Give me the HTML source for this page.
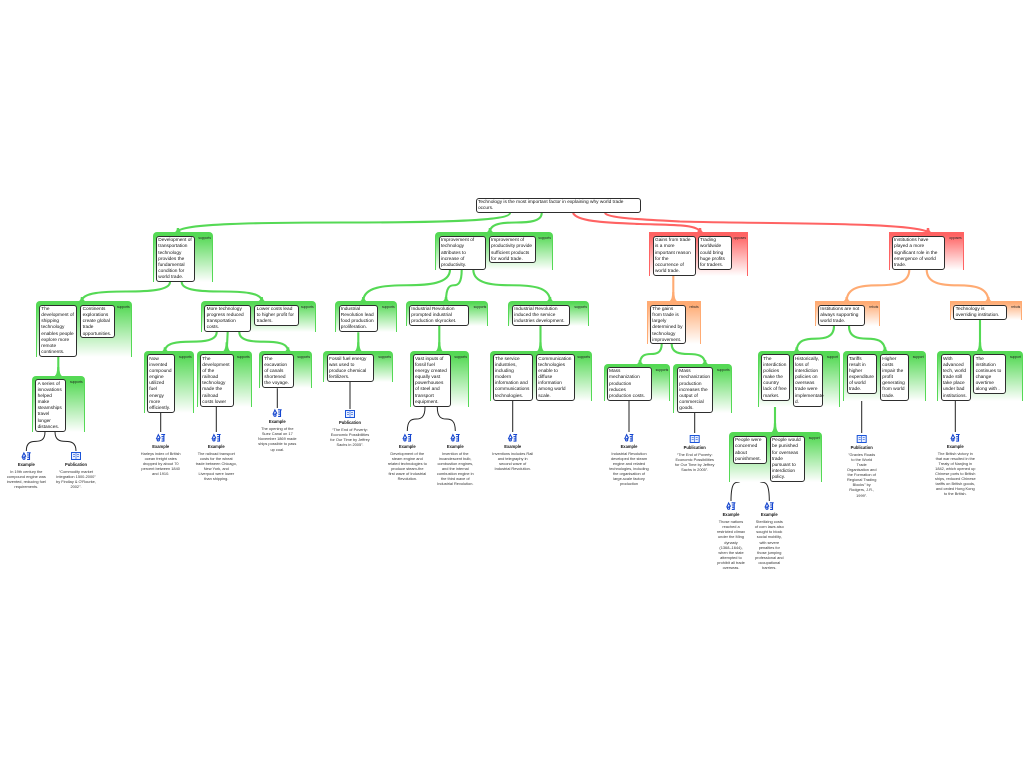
<!DOCTYPE html>
<html><head><meta charset="utf-8"><title>Argument map</title>
<style>
html,body{margin:0;padding:0;background:#fff;width:1024px;height:768px;overflow:hidden}
#w{position:absolute;left:0;top:0;width:1024px;height:768px;font-family:"Liberation Sans",sans-serif;filter:blur(.28px)}
.p{position:absolute;box-sizing:border-box;border-left:1px solid;border-right:1px solid}
.g{border-color:#55d955;background:linear-gradient(#55d955 8%,#fff 100%);border-radius:4px 4px 0 0}
.r{border-color:#ff6363;background:linear-gradient(#ff6363 8%,#fff 100%)}
.o{border-color:#ffab73;background:linear-gradient(#ffab73 8%,#fff 100%)}
.p span{position:absolute;right:1px;top:4px;font-size:3.3px;line-height:4px;color:#222}
.n{position:absolute;box-sizing:border-box;background:#fff;border:1.2px solid #2e2e2e;border-radius:3px;padding:1.3px 0 0 1.3px;font-size:4.78px;line-height:6.15px;color:#111;white-space:nowrap;overflow:visible}
.c{position:absolute;width:60px;text-align:center;font-size:3.9px;line-height:5.1px;color:#333;white-space:nowrap}
.c b{display:block;font-size:4.1px;line-height:5px;color:#111;margin-bottom:2px}
svg{position:absolute;left:0;top:0}
</style></head><body><div id="w">
<svg width="1024" height="768" viewBox="0 0 1024 768" xmlns="http://www.w3.org/2000/svg">
<defs>
<path id="f" d="M-3 0Q-1.2 -1 -1.2 -4H1.2Q1.2 -1 3 0Z"/>
<path id="h" d="M-3.5 0Q-1.1 -2 -1.1 -9H1.1Q1.1 -2 3.5 0Z"/>
<symbol id="ex" viewBox="0 0 10 8" overflow="visible">
<g fill="none" stroke="#1546cf" stroke-width="1.1"><path d="M.6 5.5L2.6 1 4.4 4.2 2.4 5.4"/><circle cx="2.6" cy="6.2" r="1.1"/><path d="M5.6 .8H9.4M8.2 .8V7.4H5.8M5.8 3H8M6 5.2H8"/></g>
</symbol>
<symbol id="bk" viewBox="0 0 10 8" overflow="visible">
<g fill="#e8efff" stroke="#1c55d8" stroke-width="1"><rect x=".5" y=".5" width="9" height="7"/><path d="M5 .5V7.5M2 2.7H4M2 4.7H4M6 2.7H8M6 4.7H8" stroke-width=".6"/></g>
</symbol>
</defs>
<g fill="none" stroke="#55d955" stroke-width="2.1">
<path d="M510 213C510 221.5 427 222.5 344 222.5S178 223.5 178 232"/>
<path d="M541.7 213C541.7 221.5 528.8 222.5 515.9 222.5S490 223.5 490 232"/>
<path d="M170 282C170 290.5 148 291.5 126 291.5S82 292.5 82 301"/>
<path d="M181.7 282C181.7 290.5 201.7 291.5 221.7 291.5S261.7 292.5 261.7 301"/>
<path d="M450 269.5C450 283.7 428.3 285.25 406.7 285.25S363.3 286.8 363.3 301"/>
<path d="M461.7 269.5C461.7 283.7 457.8 285.25 453.9 285.25S446 286.8 446 301"/>
<path d="M473.3 269.5C473.3 283.7 492.5 285.25 511.7 285.25S550 286.8 550 301"/>
<path d="M216.7 332C216.7 340.7 203.8 341.65 190.9 341.65S165 342.6 165 351.3"/>
<path d="M227.7 332L226.7 351.3"/>
<path d="M239.3 332C239.3 340.7 251.5 341.65 263.7 341.65S288 342.6 288 351.3"/>
<path d="M661.7 344C661.7 353 656.3 354 650.9 354S640 355 640 364"/>
<path d="M671.7 344C671.7 353 680 354 688.4 354S705 355 705 364"/>
<path d="M834 326C834 337.4 824.7 338.65 815.4 338.65S796.7 339.9 796.7 351.3"/>
<path d="M849 326C849 337.4 858 338.65 867 338.65S885 339.9 885 351.3"/>
<path d="M58.3 356.7V376M358.3 332.3V351.3M439.3 326V351.3M540.5 326V351.3M980 320V351.3M775 401V432.3"/>
</g>
<g fill="none" stroke="#ff6363" stroke-width="2.1">
<path d="M573 213C577 221 600 222.5 640 224C670 225 698 224 700 232"/>
<path d="M605 213C607 218 640 219.5 680 221.5C770 224 910 222 928 232"/>
</g>
<g fill="none" stroke="#ffab73" stroke-width="2.1">
<path d="M673.3 275.5V301"/>
<path d="M909.3 269.6C909.3 283.7 893.7 285.3 878 285.3S846.7 286.9 846.7 301"/>
<path d="M926.7 269.6C926.7 283.7 942.1 285.3 957.5 285.3S988.3 286.9 988.3 301"/>
</g>
<g fill="#55d955">
<use href="#f" x="178" y="232"/><use href="#f" x="490" y="232"/><use href="#f" x="82" y="301"/><use href="#f" x="261.7" y="301"/><use href="#f" x="363.3" y="301"/><use href="#f" x="446" y="301"/><use href="#f" x="550" y="301"/><use href="#f" x="165" y="351.3"/><use href="#f" x="288" y="351.3"/><use href="#f" x="640" y="364"/><use href="#f" x="705" y="364"/><use href="#f" x="796.7" y="351.3"/><use href="#f" x="885" y="351.3"/>
<use href="#h" x="58.3" y="376"/><use href="#h" x="226.7" y="351.3"/><use href="#h" x="358.3" y="351.3"/><use href="#h" x="439.3" y="351.3"/><use href="#h" x="540.5" y="351.3"/><use href="#h" x="980" y="351.3"/><use href="#h" x="775" y="432.3"/>
</g>
<g fill="#ff6363"><use href="#f" x="700" y="232"/><use href="#f" x="928" y="232"/></g>
<g fill="#ffab73"><use href="#h" x="673.3" y="301"/><use href="#f" x="846.7" y="301"/><use href="#f" x="988.3" y="301"/></g>
<g fill="none" stroke="#222" stroke-width="1">
<path d="M45 431.7C45 440.4 40.3 441.35 35.7 441.35S26.3 442.3 26.3 451"/>
<path d="M55 431.7C55 440.4 60.3 441.35 65.5 441.35S76 442.3 76 451"/>
<path d="M160.7 412.7V432M216.3 406.7V432M277.3 388.3V408M350 382V409M512.7 401V432M629 401V432M694.7 413V433M861.7 394.5V433M955.3 401V432"/>
<path d="M425 407C425 417.8 420.6 419 416.2 419S407.3 420.2 407.3 431"/>
<path d="M437.3 407C437.3 417.8 441.8 419 446.3 419S455.3 420.2 455.3 431"/>
<path d="M744 463.5C744 480.4 740.75 482.25 737.5 482.25S731 484.1 731 501"/>
<path d="M755.7 463.5C755.7 480.4 759.1 482.25 762.5 482.25S769.3 484.1 769.3 501"/>
</g>
<use href="#ex" x="21.3" y="452" width="10" height="8"/><use href="#bk" x="71" y="452" width="10" height="8"/>
<use href="#ex" x="155.7" y="433.7" width="10" height="8"/><use href="#ex" x="211.3" y="433.7" width="10" height="8"/><use href="#ex" x="272.3" y="409" width="10" height="8"/>
<use href="#bk" x="345" y="410" width="10" height="8"/><use href="#ex" x="402.3" y="433.7" width="10" height="8"/><use href="#ex" x="450.3" y="433.7" width="10" height="8"/><use href="#ex" x="507.7" y="433.7" width="10" height="8"/>
<use href="#ex" x="624" y="433.7" width="10" height="8"/><use href="#bk" x="689.7" y="435" width="10" height="8"/><use href="#bk" x="856.7" y="435" width="10" height="8"/><use href="#ex" x="950.3" y="433.7" width="10" height="8"/>
<use href="#ex" x="726" y="502" width="10" height="8"/><use href="#ex" x="764.3" y="502" width="10" height="8"/>
</svg>

<div class="p g" style="left:153px;top:232px;width:60px;height:50px"><span>supports</span></div>
<div class="p g" style="left:435px;top:232px;width:118px;height:37.5px"><span>supports</span></div>
<div class="p r" style="left:649px;top:232px;width:99px;height:43.5px"><span>opposes</span></div>
<div class="p r" style="left:888.7px;top:232px;width:75px;height:37.6px"><span>opposes</span></div>
<div class="p g" style="left:35.7px;top:301px;width:96px;height:55.7px"><span>supports</span></div>
<div class="p g" style="left:201px;top:301px;width:114.7px;height:31px"><span>supports</span></div>
<div class="p g" style="left:335px;top:301px;width:61.7px;height:31px"><span>supports</span></div>
<div class="p g" style="left:405.7px;top:301px;width:82.6px;height:25.3px"><span>supports</span></div>
<div class="p g" style="left:508.3px;top:301px;width:80.7px;height:25px"><span>supports</span></div>
<div class="p o" style="left:646.7px;top:301px;width:54px;height:43px"><span>rebuts</span></div>
<div class="p o" style="left:815px;top:301px;width:65.3px;height:25px"><span>rebuts</span></div>
<div class="p o" style="left:950.3px;top:301px;width:72px;height:19px"><span>rebuts</span></div>
<div class="p g" style="left:32px;top:376px;width:52.7px;height:55.7px"><span>supports</span></div>
<div class="p g" style="left:143.7px;top:351.3px;width:50px;height:61.4px"><span>supports</span></div>
<div class="p g" style="left:197px;top:351.3px;width:54.7px;height:55.4px"><span>supports</span></div>
<div class="p g" style="left:258.7px;top:351.3px;width:53.3px;height:37px"><span>supports</span></div>
<div class="p g" style="left:323.3px;top:351.3px;width:69.7px;height:31px"><span>supports</span></div>
<div class="p g" style="left:409.7px;top:351.3px;width:59.3px;height:55.7px"><span>supports</span></div>
<div class="p g" style="left:489.7px;top:351.3px;width:102.3px;height:49.7px"><span>supports</span></div>
<div class="p g" style="left:603.7px;top:364px;width:66.6px;height:36.7px"><span>supports</span></div>
<div class="p g" style="left:673.3px;top:364px;width:58.4px;height:49px"><span>supports</span></div>
<div class="p g" style="left:757.7px;top:351.3px;width:82.3px;height:55.7px"><span>support</span></div>
<div class="p g" style="left:843.3px;top:351.3px;width:82.4px;height:49.7px"><span>support</span></div>
<div class="p g" style="left:937.3px;top:351.3px;width:85.7px;height:49.7px"><span>support</span></div>
<div class="p g" style="left:729.3px;top:432.3px;width:92.4px;height:49.4px"><span>support</span></div>

<div class="n" style="left:475.7px;top:197.7px;width:165px;height:15.6px">Technology is the most important factor in explaining why world trade<br>occurs.</div>
<div class="n" style="left:156px;top:236px;width:39px;height:46px">Development of<br>transportation<br>technology<br>provides the<br>fundamental<br>condition for<br>world trade.</div>
<div class="n" style="left:438.7px;top:236px;width:47.3px;height:33.5px">Improvement of<br>technology<br>attributes to<br>increase of<br>productivity.</div>
<div class="n" style="left:488.7px;top:236px;width:47px;height:27px">Improvement of<br>productivity provide<br>sufficient products<br>for world trade.</div>
<div class="n" style="left:652.7px;top:236px;width:43px;height:39.5px">Gains from trade<br>is a more<br>important reason<br>for the<br>occurrence of<br>world trade.</div>
<div class="n" style="left:697.7px;top:236px;width:34px;height:33.5px">Trading<br>worldwide<br>could bring<br>huge profits<br>for traders.</div>
<div class="n" style="left:891.7px;top:236px;width:53.3px;height:33.6px">Institutions have<br>played a more<br>significant role in the<br>emergence of world<br>trade.</div>
<div class="n" style="left:39px;top:304.7px;width:38.3px;height:52px">The<br>development of<br>shipping<br>technology<br>enables people<br>explore more<br>remote<br>continents.</div>
<div class="n" style="left:80.3px;top:304.7px;width:34.7px;height:33.6px">Continents<br>explorations<br>create global<br>trade<br>opportunities.</div>
<div class="n" style="left:204.3px;top:304.7px;width:46.7px;height:27.3px">More technology<br>progress reduced<br>transportation<br>costs.</div>
<div class="n" style="left:254.3px;top:304.7px;width:44.7px;height:21.6px">Lower costs lead<br>to higher profit for<br>traders.</div>
<div class="n" style="left:338.5px;top:304.7px;width:39.8px;height:27.6px">Industrial<br>Revolution lead<br>food production<br>proliferation.</div>
<div class="n" style="left:409px;top:304.7px;width:60.3px;height:21.6px">Industrial Revolution<br>prompted industrial<br>production skyrocket.</div>
<div class="n" style="left:512px;top:304.7px;width:58px;height:21.6px">Industrial Revolution<br>induced the service<br>industries development.</div>
<div class="n" style="left:650px;top:304.7px;width:35.7px;height:39.6px">The gains<br>from trade is<br>largely<br>determined by<br>technology<br>improvement.</div>
<div class="n" style="left:818px;top:304.7px;width:47.3px;height:21.6px">Institutions are not<br>always supporting<br>world trade.</div>
<div class="n" style="left:953.3px;top:304.7px;width:54px;height:15px">Technology is<br>overriding institution.</div>
<div class="n" style="left:35.3px;top:379.3px;width:30.4px;height:52.4px">A series of<br>innovations<br>helped<br>make<br>steamships<br>travel<br>longer<br>distances.</div>
<div class="n" style="left:147px;top:354.3px;width:28.3px;height:58.4px">Now<br>invented<br>compound<br>engine<br>utilized<br>fuel<br>energy<br>more<br>efficiently.</div>
<div class="n" style="left:200px;top:354.3px;width:33.7px;height:52.4px">The<br>development<br>of the<br>railroad<br>technology<br>made the<br>railroad<br>costs lower</div>
<div class="n" style="left:262px;top:354.3px;width:31.7px;height:34px">The<br>excavation<br>of canals<br>shortened<br>the voyage.</div>
<div class="n" style="left:326.7px;top:354.3px;width:47.6px;height:28px">Fossil fuel energy<br>was used to<br>produce chemical<br>fertilizers.</div>
<div class="n" style="left:412.7px;top:354.3px;width:38px;height:52.7px">Vast inputs of<br>fossil fuel<br>energy created<br>equally vast<br>powerhouses<br>of steel and<br>transport<br>equipment.</div>
<div class="n" style="left:492.7px;top:354.3px;width:40.6px;height:46.7px">The service<br>industries,<br>including<br>modern<br>information and<br>communications<br>technologies.</div>
<div class="n" style="left:536px;top:354.3px;width:39.3px;height:46.7px">Communication<br>technologies<br>enable to<br>diffuse<br>information<br>among world<br>scale.</div>
<div class="n" style="left:606.7px;top:367px;width:45.3px;height:34px">Mass<br>mechanization<br>production<br>reduces<br>production costs.</div>
<div class="n" style="left:677px;top:367px;width:36.3px;height:46px">Mass<br>mechanization<br>production<br>increases the<br>output of<br>commercial<br>goods.</div>
<div class="n" style="left:761px;top:354.3px;width:29px;height:46.7px">The<br>interdiction<br>policies<br>make the<br>country<br>lack of free<br>market.</div>
<div class="n" style="left:792.7px;top:354.3px;width:30.6px;height:52.7px">Historically,<br>loss of<br>interdiction<br>policies on<br>overseas<br>trade were<br>implementate<br>d.</div>
<div class="n" style="left:846.7px;top:354.3px;width:30.6px;height:40.2px">Tariffs<br>result in<br>higher<br>expenditure<br>of world<br>trade.</div>
<div class="n" style="left:880px;top:354.3px;width:29px;height:46.7px">Higher<br>costs<br>impair the<br>profit<br>generating<br>from world<br>trade.</div>
<div class="n" style="left:940.7px;top:354.3px;width:30px;height:46.7px">With<br>advanced<br>tech, world<br>trade still<br>take place<br>under bad<br>institutions.</div>
<div class="n" style="left:973.3px;top:354.3px;width:32.7px;height:40.2px">The<br>institution<br>continues to<br>change<br>overtime<br>along with .</div>
<div class="n" style="left:732.7px;top:436px;width:34.3px;height:27.5px">People were<br>concerned<br>about<br>punishment.</div>
<div class="n" style="left:769.7px;top:436px;width:35.3px;height:45.7px">People would<br>be punished<br>for overseas<br>trade<br>pursuant to<br>interdiction<br>policy.</div>

<div class="c" style="left:-3.7px;top:462px"><b>Example</b>In 19th century the<br>compound engine was<br>invented, reducing fuel<br>requirements.</div>
<div class="c" style="left:46px;top:462px"><b>Publication</b>“Commodity market<br>integration 1500-2000”<br>by Findlay &amp; O'Rourke,<br>2002".</div>
<div class="c" style="left:130.7px;top:443.5px"><b>Example</b>Harleys index of British<br>ocean freight rates<br>dropped by about 70<br>percent between 1840<br>and 1910.</div>
<div class="c" style="left:186.3px;top:443.5px"><b>Example</b>The railroad transport<br>costs for the wheat<br>trade between Chicago,<br>New York, and<br>Liverpool were lower<br>than shipping.</div>
<div class="c" style="left:247.3px;top:419.2px"><b>Example</b>The opening of the<br>Suez Canal on 17<br>November 1869 made<br>ships possible to pass<br>up coal.</div>
<div class="c" style="left:320px;top:420.2px"><b>Publication</b>“The End of Poverty:<br>Economic Possibilities<br>for Our Time by Jeffrey<br>Sachs in 2005”.</div>
<div class="c" style="left:377.3px;top:443.5px"><b>Example</b>Development of the<br>steam engine and<br>related technologies to<br>produce steam-the<br>first wave of Industrial<br>Revolution.</div>
<div class="c" style="left:425.3px;top:443.5px"><b>Example</b>Invention of the<br>incandescent bulb,<br>combustion engines,<br>and the internal<br>combustion engine in<br>the third wave of<br>Industrial Revolution.</div>
<div class="c" style="left:482.7px;top:443.5px"><b>Example</b>Inventions includes Rail<br>and telegraphy in<br>second wave of<br>Industrial Revolution.</div>
<div class="c" style="left:599px;top:443.5px"><b>Example</b>Industrial Revolution<br>developed the steam<br>engine and related<br>technologies, including<br>the organisation of<br>large-scale factory<br>production</div>
<div class="c" style="left:664.7px;top:444.8px"><b>Publication</b>“The End of Poverty:<br>Economic Possibilities<br>for Our Time by Jeffrey<br>Sachs in 2005”.</div>
<div class="c" style="left:831.7px;top:444.8px"><b>Publication</b>"Gravies Roads<br>to the World<br>Trade<br>Organisation and<br>the Formation of<br>Regional Trading<br>Blocks" by<br>Rodgers, J.R.,<br>1999".</div>
<div class="c" style="left:925.3px;top:443.5px"><b>Example</b>The British victory in<br>that war resulted in the<br>Treaty of Nanjing in<br>1842, which opened up<br>Chinese ports to British<br>ships, reduced Chinese<br>tariffs on British goods,<br>and ceded Hong Kong<br>to the British.</div>
<div class="c" style="left:701px;top:512.2px"><b>Example</b>Those nations<br>reached a<br>restricted climax<br>under the Ming<br>dynasty<br>(1368–1644),<br>when the state<br>attempted to<br>prohibit all trade<br>overseas.</div>
<div class="c" style="left:739.3px;top:512.2px"><b>Example</b>Sterilizing costs<br>of corn laws also<br>sought to block<br>social mobility,<br>with severe<br>penalties for<br>those jumping<br>professional and<br>occupational<br>barriers.</div>
</div></body></html>
